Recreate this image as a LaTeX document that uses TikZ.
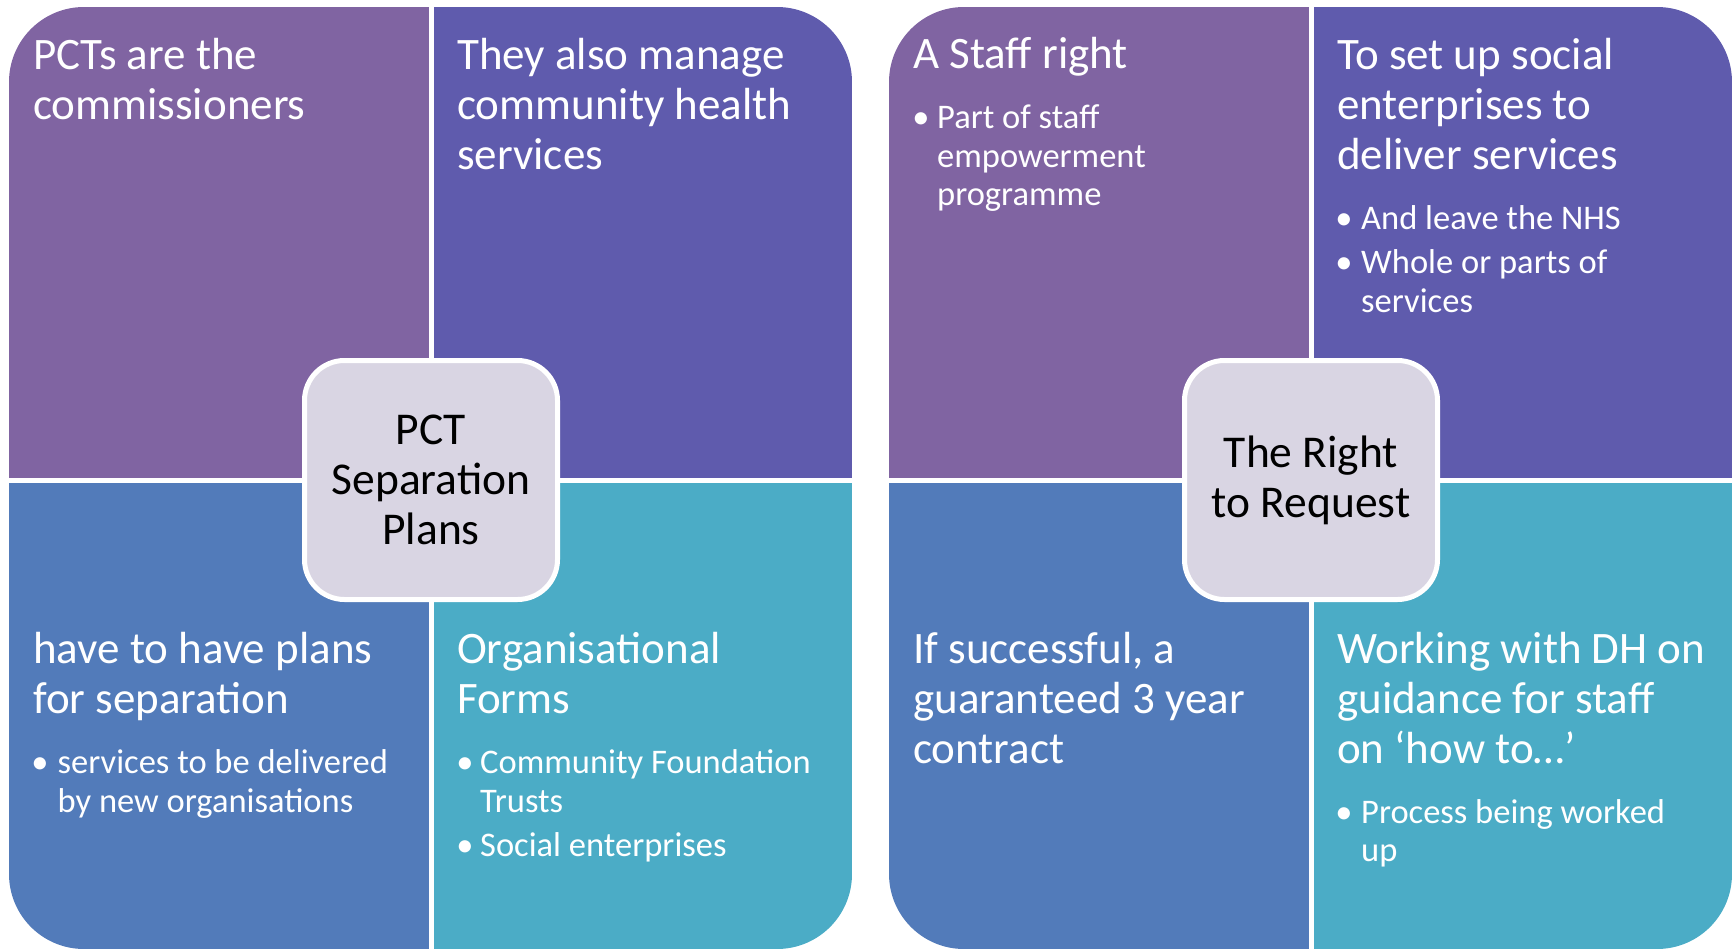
\documentclass[tikz,border=0pt]{standalone}
\usepackage{fontspec}
\setmainfont{Carlito}

\definecolor{tlpurple}{HTML}{8064A2}
\definecolor{trviolet}{HTML}{5F5BAD}
\definecolor{blblue}{HTML}{527BBA}
\definecolor{braqua}{HTML}{4BACC6}
\definecolor{hubgrey}{HTML}{D9D5E3}

\tikzset{
  head/.style={anchor=base west,inner sep=0pt,white,align=left,font=\fontsize{45}{50}\selectfont},
  itemtext/.style={anchor=base west,inner sep=0pt,white,align=left,font=\fontsize{34.5}{38.6}\selectfont},
  dot/.style={anchor=base,inner sep=0pt,white,font=\fontsize{34.5}{38.6}\selectfont},
  hub/.style={draw=white,line width=5pt,fill=hubgrey,rounded corners=40pt,
    minimum width=253pt,minimum height=239pt,align=center,text=black,
    font=\fontsize{45.5}{50}\selectfont},
}

% four coloured quarters inside one rounded block: left, middle, right
\newcommand{\fourpanel}[3]{%
  \begin{scope}
    \clip[rounded corners=75pt] (#1,7) rectangle (#3,949);
    \fill[tlpurple] (#1,7) rectangle (#2,480);
    \fill[trviolet] (#2,7) rectangle (#3,480);
    \fill[blblue] (#1,480) rectangle (#2,949);
    \fill[braqua] (#2,480) rectangle (#3,949);
  \end{scope}
  \draw[white,line width=5pt] (#2,7) -- (#2,949);
  \draw[white,line width=5pt] (#1,480) -- (#3,480);
}

\begin{document}
\begin{tikzpicture}[x=1pt,y=-1pt]
  \useasboundingbox (0,0) rectangle (1735,950);

  \fourpanel{9}{431}{852}
  \fourpanel{889}{1311}{1732}

  % left block (base = last line)
  \node[head] (pcts) at (33,119) {PCTs are the\\commissioners};
  \node[head] (manage) at (457,169) {They also manage\\community health\\services};
  \node[head] (plans) at (33,713) {have to have plans\\for separation};
  \node[dot] (plansdot) at (40,773.5) {•};
  \node[itemtext] (plansitem) at (57.5,812) {services to be delivered\\by new organisations};
  \node[head] (forms) at (457,713) {Organisational\\Forms};
  \node[dot] (formsdota) at (465,773.5) {•};
  \node[itemtext] (formsitema) at (480,812) {Community Foundation\\Trusts};
  \node[dot] (formsdotb) at (465,856.5) {•};
  \node[itemtext] (formsitemb) at (480,856.5) {Social enterprises};

  \node[hub] (pct) at (431,480) {PCT\\Separation\\Plans};

  % right block
  \node[head] (staff) at (913,69) {A Staff right};
  \node[dot] (staffdot) at (921,128.5) {•};
  \node[itemtext] (staffitem) at (937,205.7) {Part of staff\\empowerment\\programme};
  \node[head] (social) at (1337,169) {To set up social\\enterprises to\\deliver services};
  \node[dot] (socialdota) at (1344,229) {•};
  \node[itemtext] (socialitema) at (1361,229) {And leave the NHS};
  \node[dot] (socialdotb) at (1344,273.5) {•};
  \node[itemtext] (socialitemb) at (1361,312) {Whole or parts of\\services};
  \node[head] (contract) at (913,763) {If successful, a\\guaranteed 3 year\\contract};
  \node[head] (guidance) at (1337,763) {Working with DH on\\guidance for staff\\on ‘how to…’};
  \node[dot] (guidancedot) at (1344,823) {•};
  \node[itemtext] (guidanceitem) at (1361,861.6) {Process being worked\\up};

  \node[hub] (right) at (1311,480) {The Right\\to Request};
\end{tikzpicture}
\end{document}
